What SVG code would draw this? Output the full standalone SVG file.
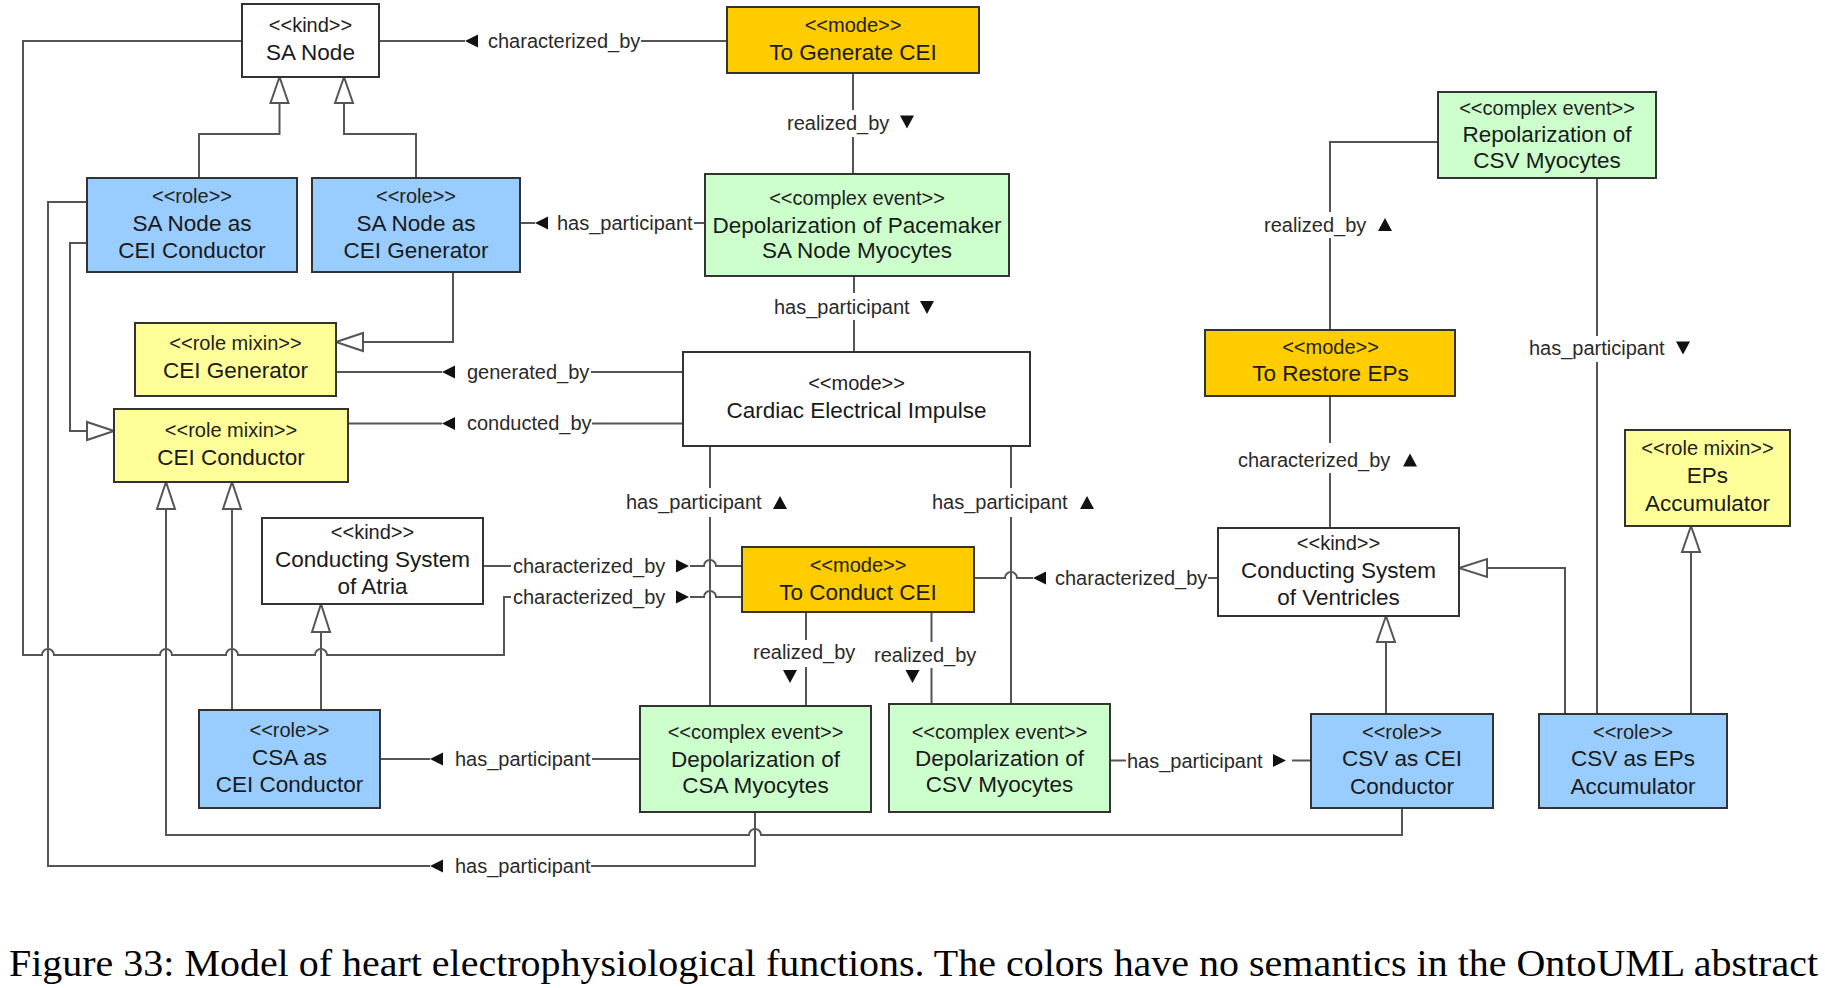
<svg xmlns="http://www.w3.org/2000/svg" width="1825" height="988" viewBox="0 0 1825 988">
<style>
.box{stroke:#333;stroke-width:2}
.kind{fill:#fff}.mode{fill:#FFCC00}.role{fill:#99CCFF}.mixin{fill:#FFFF99}.event{fill:#CCFFCC}
text{font-family:"Liberation Sans",Arial,sans-serif}
.st{font-size:20px;fill:#222;text-anchor:middle}
.nm{font-size:22.5px;fill:#1a1a1a;text-anchor:middle}
.lb{font-size:20px;fill:#2a2a2a}
.c{fill:none;stroke:#555;stroke-width:2}
.gen{fill:#fff;stroke:#555;stroke-width:2}
.ar{fill:#111}
.cap{font-family:"Liberation Serif","Times New Roman",serif;font-size:38px;fill:#000}
</style>
<rect width="1825" height="988" fill="#fff"/>

<g id="connectors">
  <!-- SA Node characterized_by To Generate CEI -->
  <path class="c" d="M379,41 H465 M641,41 H727"/>
  <polygon class="ar" points="465,41 478,34.5 478,47.5"/>
  <text class="lb" x="488" y="48">characterized_by</text>
  <!-- realized_by To Generate CEI -> Pacemaker -->
  <path class="c" d="M853,73 V110 M853,137 V174"/>
  <text class="lb" x="787" y="130">realized_by</text>
  <polygon class="ar" points="900,115.5 914,115.5 907,128.5"/>
  <!-- has_participant SA Node gen <- Pacemaker -->
  <path class="c" d="M520,223 H535 M694,223 H705"/>
  <polygon class="ar" points="535,223 548,216.5 548,229.5"/>
  <text class="lb" x="557" y="230">has_participant</text>
  <!-- has_participant Pacemaker -> Cardiac -->
  <path class="c" d="M854,276 V293 M854,320 V352"/>
  <text class="lb" x="774" y="314">has_participant</text>
  <polygon class="ar" points="920,301 934,301 927,314"/>
  <!-- generated_by -->
  <path class="c" d="M336,372 H442 M591,372 H683"/>
  <polygon class="ar" points="442,372 455,365.5 455,378.5"/>
  <text class="lb" x="467" y="378.5">generated_by</text>
  <!-- conducted_by -->
  <path class="c" d="M348,423.5 H442 M592,423.5 H683"/>
  <polygon class="ar" points="442,423.5 455,417 455,430"/>
  <text class="lb" x="467" y="430">conducted_by</text>
  <!-- Atria characterized_by To Conduct CEI -->
  <path class="c" d="M483,566 H511 M690,566 H704 A6,6 0 0 1 716,566 H742"/>
  <text class="lb" x="513" y="572.5">characterized_by</text>
  <polygon class="ar" points="689,566 676,559.5 676,572.5"/>
  <!-- SA Node characterized_by To Conduct CEI -->
  <path class="c" d="M242,41 H23 V655 H42 A6,6 0 0 1 54,655 H160 A6,6 0 0 1 172,655 H226 A6,6 0 0 1 238,655 H315 A6,6 0 0 1 327,655 H504 V597 H511 M690,597 H704 A6,6 0 0 1 716,597 H742"/>
  <text class="lb" x="513" y="603.5">characterized_by</text>
  <polygon class="ar" points="689,597 676,590.5 676,603.5"/>
  <!-- has_participant Cardiac -> Depol CSA -->
  <path class="c" d="M710,446 V488 M710,517 V706"/>
  <text class="lb" x="626" y="509">has_participant</text>
  <polygon class="ar" points="780,496 787,509 773,509"/>
  <!-- has_participant Cardiac -> Depol CSV -->
  <path class="c" d="M1011,446 V488 M1011,517 V704"/>
  <text class="lb" x="932" y="509">has_participant</text>
  <polygon class="ar" points="1087,496 1094,509 1080,509"/>
  <!-- To Conduct CEI characterized_by Ventricles -->
  <path class="c" d="M974,578 H1005 A6,6 0 0 1 1017,578 H1033 M1208,578 H1218"/>
  <polygon class="ar" points="1033,578 1046,571.5 1046,584.5"/>
  <text class="lb" x="1055" y="585">characterized_by</text>
  <!-- realized_by To Conduct -> Depol CSA -->
  <path class="c" d="M806,612 V640 M806,667 V706"/>
  <text class="lb" x="753" y="659">realized_by</text>
  <polygon class="ar" points="783,670 797,670 790,683"/>
  <!-- realized_by To Conduct -> Depol CSV -->
  <path class="c" d="M931.5,612 V642 M931.5,668 V704"/>
  <text class="lb" x="874" y="662">realized_by</text>
  <polygon class="ar" points="905.5,670 919.5,670 912.5,683"/>
  <!-- has_participant Depol CSA -> CSA as CEI Conductor -->
  <path class="c" d="M380,759 H430 M592,759 H640"/>
  <polygon class="ar" points="430,759 443,752.5 443,765.5"/>
  <text class="lb" x="455" y="766">has_participant</text>
  <!-- has_participant Depol CSA -> SA Node as CEI Conductor -->
  <path class="c" d="M87,202 H48 V866 H430 M591,866 H755 V812"/>
  <polygon class="ar" points="430,866 443,859.5 443,872.5"/>
  <text class="lb" x="455" y="872.5">has_participant</text>
  <!-- has_participant Depol CSV -> CSV as CEI Conductor -->
  <path class="c" d="M1110,760.5 H1126 M1292,760.5 H1311"/>
  <text class="lb" x="1127" y="767.5">has_participant</text>
  <polygon class="ar" points="1286,760.5 1273,754 1273,767"/>
  <!-- has_participant Repolarization -> CSV EPs -->
  <path class="c" d="M1597,178 V336 M1597,362 V714"/>
  <text class="lb" x="1529" y="354.5">has_participant</text>
  <polygon class="ar" points="1676,341.5 1690,341.5 1683,354.5"/>
  <!-- realized_by To Restore EPs -> Repolarization -->
  <path class="c" d="M1438,142 H1330 V212 M1330,238 V330"/>
  <text class="lb" x="1264" y="232">realized_by</text>
  <polygon class="ar" points="1385,218 1392,231 1378,231"/>
  <!-- characterized_by To Restore EPs -> Ventricles -->
  <path class="c" d="M1330,396 V443 M1330,473 V528"/>
  <text class="lb" x="1238" y="467">characterized_by</text>
  <polygon class="ar" points="1410,453.5 1417,466.5 1403,466.5"/>

  <!-- generalizations -->
  <path class="c" d="M199,178 V134 H279.5 V103"/>
  <polygon class="gen" points="279.5,77 270.5,103 288.5,103"/>
  <path class="c" d="M416,178 V134 H344 V103"/>
  <polygon class="gen" points="344,77 335,103 353,103"/>
  <path class="c" d="M453,272 V342 H363"/>
  <polygon class="gen" points="336,342 363,333 363,351"/>
  <path class="c" d="M87,243 H70 V431 H87"/>
  <polygon class="gen" points="114,431 87,422 87,440"/>
  <path class="c" d="M1402,808 V835 H761 A6,6 0 0 0 749,835 H166 V509"/>
  <polygon class="gen" points="166,482 157,509 175,509"/>
  <path class="c" d="M232,710 V509"/>
  <polygon class="gen" points="232,482 223,509 241,509"/>
  <path class="c" d="M321,710 V632"/>
  <polygon class="gen" points="321,604 312,632 330,632"/>
  <path class="c" d="M1386,714 V642"/>
  <polygon class="gen" points="1386,616 1377,642 1395,642"/>
  <path class="c" d="M1565,714 V568 H1487"/>
  <polygon class="gen" points="1459,568 1487,559 1487,577"/>
  <path class="c" d="M1691,714 V552"/>
  <polygon class="gen" points="1691,526 1682,552 1700,552"/>
</g>

<g id="sa-node"><rect class="box kind" x="242" y="4" width="137" height="73"/>
<text class="st" x="310.5" y="32">&lt;&lt;kind&gt;&gt;</text><text class="nm" x="310.5" y="60">SA Node</text></g>

<g id="to-generate-cei"><rect class="box mode" x="727" y="7" width="252" height="66"/>
<text class="st" x="853" y="32">&lt;&lt;mode&gt;&gt;</text><text class="nm" x="853" y="60">To Generate CEI</text></g>

<g id="sa-node-cei-conductor"><rect class="box role" x="87" y="178" width="210" height="94"/>
<text class="st" x="192" y="203">&lt;&lt;role&gt;&gt;</text><text class="nm" x="192" y="231">SA Node as</text><text class="nm" x="192" y="258">CEI Conductor</text></g>

<g id="sa-node-cei-generator"><rect class="box role" x="312" y="178" width="208" height="94"/>
<text class="st" x="416" y="203">&lt;&lt;role&gt;&gt;</text><text class="nm" x="416" y="231">SA Node as</text><text class="nm" x="416" y="258">CEI Generator</text></g>

<g id="depol-pacemaker"><rect class="box event" x="705" y="174" width="304" height="102"/>
<text class="st" x="857" y="205">&lt;&lt;complex event&gt;&gt;</text><text class="nm" x="857" y="233">Depolarization of Pacemaker</text><text class="nm" x="857" y="258">SA Node Myocytes</text></g>

<g id="cei-generator"><rect class="box mixin" x="135" y="323" width="201" height="73"/>
<text class="st" x="235.5" y="350">&lt;&lt;role mixin&gt;&gt;</text><text class="nm" x="235.5" y="378">CEI Generator</text></g>

<g id="cardiac-electrical-impulse"><rect class="box kind" x="683" y="352" width="347" height="94"/>
<text class="st" x="856.5" y="390">&lt;&lt;mode&gt;&gt;</text><text class="nm" x="856.5" y="418">Cardiac Electrical Impulse</text></g>

<g id="cei-conductor"><rect class="box mixin" x="114" y="409" width="234" height="73"/>
<text class="st" x="231" y="437">&lt;&lt;role mixin&gt;&gt;</text><text class="nm" x="231" y="465">CEI Conductor</text></g>

<g id="cs-atria"><rect class="box kind" x="262" y="518" width="221" height="86"/>
<text class="st" x="372.5" y="539">&lt;&lt;kind&gt;&gt;</text><text class="nm" x="372.5" y="567">Conducting System</text><text class="nm" x="372.5" y="594">of Atria</text></g>

<g id="to-conduct-cei"><rect class="box mode" x="742" y="547" width="232" height="65"/>
<text class="st" x="858" y="572">&lt;&lt;mode&gt;&gt;</text><text class="nm" x="858" y="600">To Conduct CEI</text></g>

<g id="cs-ventricles"><rect class="box kind" x="1218" y="528" width="241" height="88"/>
<text class="st" x="1338.5" y="550">&lt;&lt;kind&gt;&gt;</text><text class="nm" x="1338.5" y="578">Conducting System</text><text class="nm" x="1338.5" y="605">of Ventricles</text></g>

<g id="csa-cei-conductor"><rect class="box role" x="199" y="710" width="181" height="98"/>
<text class="st" x="289.5" y="737">&lt;&lt;role&gt;&gt;</text><text class="nm" x="289.5" y="765">CSA as</text><text class="nm" x="289.5" y="792">CEI Conductor</text></g>

<g id="depol-csa"><rect class="box event" x="640" y="706" width="231" height="106"/>
<text class="st" x="755.5" y="739">&lt;&lt;complex event&gt;&gt;</text><text class="nm" x="755.5" y="767">Depolarization of</text><text class="nm" x="755.5" y="793">CSA Myocytes</text></g>

<g id="depol-csv"><rect class="box event" x="889" y="704" width="221" height="108"/>
<text class="st" x="999.5" y="739">&lt;&lt;complex event&gt;&gt;</text><text class="nm" x="999.5" y="766">Depolarization of</text><text class="nm" x="999.5" y="792">CSV Myocytes</text></g>

<g id="csv-cei-conductor"><rect class="box role" x="1311" y="714" width="182" height="94"/>
<text class="st" x="1402" y="739">&lt;&lt;role&gt;&gt;</text><text class="nm" x="1402" y="766">CSV as CEI</text><text class="nm" x="1402" y="794">Conductor</text></g>

<g id="csv-eps-accumulator"><rect class="box role" x="1539" y="714" width="188" height="94"/>
<text class="st" x="1633" y="739">&lt;&lt;role&gt;&gt;</text><text class="nm" x="1633" y="766">CSV as EPs</text><text class="nm" x="1633" y="794">Accumulator</text></g>

<g id="repolarization-csv"><rect class="box event" x="1438" y="92" width="218" height="86"/>
<text class="st" x="1547" y="115">&lt;&lt;complex event&gt;&gt;</text><text class="nm" x="1547" y="142">Repolarization of</text><text class="nm" x="1547" y="168">CSV Myocytes</text></g>

<g id="to-restore-eps"><rect class="box mode" x="1205" y="330" width="250" height="66"/>
<text class="st" x="1330.5" y="354">&lt;&lt;mode&gt;&gt;</text><text class="nm" x="1330.5" y="381">To Restore EPs</text></g>

<g id="eps-accumulator"><rect class="box mixin" x="1625" y="430" width="165" height="96"/>
<text class="st" x="1707.5" y="455">&lt;&lt;role mixin&gt;&gt;</text><text class="nm" x="1707.5" y="483">EPs</text><text class="nm" x="1707.5" y="511">Accumulator</text></g>

<text class="cap" x="9" y="976" textLength="1809" lengthAdjust="spacingAndGlyphs">Figure 33: Model of heart electrophysiological functions. The colors have no semantics in the OntoUML abstract</text>
</svg>
